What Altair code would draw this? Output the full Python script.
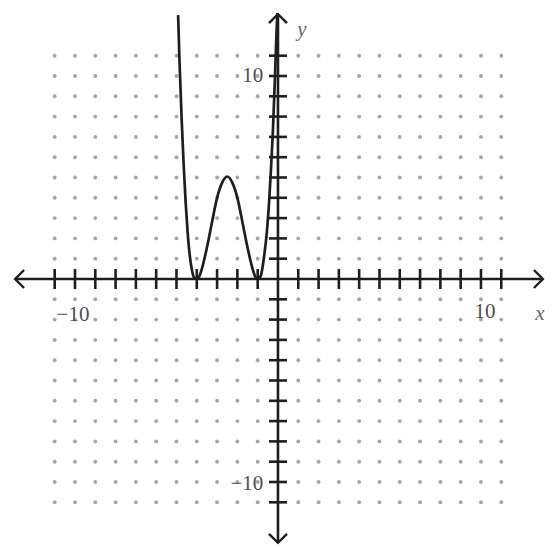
import altair as alt
import pandas as pd

# --- data ---
curve_x = [-4.92, -4.85, -4.75, -4.65, -4.55, -4.45, -4.35, -4.25, -4.15, -4.0,
           -3.9, -3.75, -3.5, -3.25, -3.0, -2.75, -2.5, -2.25, -2.0, -1.75,
           -1.5, -1.25, -1.1, -1.0, -0.85, -0.7, -0.55, -0.45, -0.35, -0.25,
           -0.15, -0.07, -0.03]
curve_y = [13.0, 10.7, 8.0, 5.7, 3.8, 2.3, 1.2, 0.5, 0.1, 0.0,
           0.08, 0.5, 1.55, 2.8, 4.0, 4.75, 5.05, 4.75, 4.0, 2.8,
           1.55, 0.5, 0.08, 0.0, 0.15, 1.0, 2.3, 3.6, 5.3, 7.3,
           9.9, 12.2, 13.1]

grid_values = list(range(-11, 12))          # dotted grid / tick positions
axis_x_ends = [-12.95, 13.05]
axis_y_ends = [-13.0, 13.05]
x_tick_labels = ["\u221210", "10"]
x_tick_label_vals = [-10, 10]
y_tick_labels = ["10", "\u221210"]
y_tick_label_vals = [10, -10]

# --- tables ---
curve = pd.DataFrame({"x": curve_x, "y": curve_y})
dots = pd.DataFrame([{"x": gx, "y": gy} for gx in grid_values for gy in grid_values
                     if gx != 0 and gy != 0])
xticks = pd.DataFrame({"x": [v for v in grid_values if v != 0], "y": 0})
yticks = pd.DataFrame({"x": 0, "y": [v for v in grid_values if v != 0]})
axes_df = pd.DataFrame({
    "x": [axis_x_ends[0], 0], "x2": [axis_x_ends[1], 0],
    "y": [0, axis_y_ends[0]], "y2": [0, axis_y_ends[1]],
})
arrows = pd.DataFrame({
    "x": [axis_x_ends[0], axis_x_ends[1], 0, 0],
    "y": [0, 0, axis_y_ends[1], axis_y_ends[0]],
    "ang": [180, 0, 270, 90],
})
xlab = pd.DataFrame({"x": [v - 0.1 + 0.3 * (v > 0) for v in x_tick_label_vals],
                     "y": [-1.75, -1.65], "t": x_tick_labels})
ylab = pd.DataFrame({"x": [-0.72, -0.72], "y": [v - 0.1 * (v < 0) for v in y_tick_label_vals],
                     "t": y_tick_labels})
names = pd.DataFrame({"x": [12.9, 1.18], "y": [-1.72, 12.27], "t": ["x", "y"]})

X = alt.Scale(domain=[-13.30, 13.45], nice=False, zero=False)
Y = alt.Scale(domain=[-13.35, 13.35], nice=False, zero=False)
INK = "#1e1e1e"

def xy(xf="x", yf="y"):
    return dict(x=alt.X(f"{xf}:Q", scale=X, axis=None),
                y=alt.Y(f"{yf}:Q", scale=Y, axis=None))

dot_layer = alt.Chart(dots).mark_circle(size=15, color="#a5a5a5", opacity=1).encode(**xy())

axis_layer = alt.Chart(axes_df).mark_rule(color=INK, strokeWidth=2.6).encode(
    x=alt.X("x:Q", scale=X, axis=None), x2="x2:Q",
    y=alt.Y("y:Q", scale=Y, axis=None), y2="y2:Q")

arrow_layer = alt.Chart(arrows).mark_point(
    shape="M -1 -1 L 0 0 L -1 1", filled=False, size=324, strokeWidth=2.4,
    color=INK, opacity=1).encode(**xy(), angle=alt.Angle("ang:Q", scale=None))

xtick_layer = alt.Chart(xticks).mark_point(
    shape="M 0 -1 L 0 1", filled=False, size=400, strokeWidth=2.6,
    color=INK, opacity=1).encode(**xy())

ytick_layer = alt.Chart(yticks).mark_point(
    shape="M -1 0 L 1 0", filled=False, size=324, strokeWidth=2.6,
    color=INK, opacity=1).encode(**xy())

curve_layer = alt.Chart(curve).mark_line(
    color=INK, strokeWidth=2.7, interpolate="monotone").encode(
    x=alt.X("x:Q", scale=X, axis=None), y=alt.Y("y:Q", scale=Y, axis=None),
    order="x:Q")

xlab_layer = alt.Chart(xlab).mark_text(
    font="Liberation Serif", fontSize=21, color="#4e4e4e", align="center",
    baseline="middle").encode(**xy(), text="t:N")

ylab_layer = alt.Chart(ylab).mark_text(
    font="Liberation Serif", fontSize=21, color="#4e4e4e", align="right",
    baseline="middle").encode(**xy(), text="t:N")

name_layer = alt.Chart(names).mark_text(
    font="Liberation Serif", fontSize=21, fontStyle="italic", color="#666666",
    align="center", baseline="middle").encode(**xy(), text="t:N")

chart = alt.layer(
    dot_layer, axis_layer, xtick_layer, ytick_layer, arrow_layer,
    curve_layer, xlab_layer, ylab_layer, name_layer
).properties(
    width=543, height=542, autosize=alt.AutoSizeParams(type="none"), padding=0,
    background="white"
).configure_view(stroke=None)

chart.save("out.html", embed_options={"renderer": "svg", "actions": False})
